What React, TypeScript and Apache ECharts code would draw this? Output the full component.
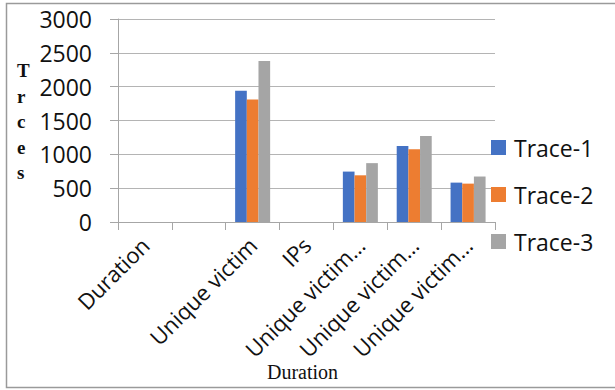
import React, { useEffect, useRef } from "react";
import * as echarts from "echarts";

const categories = [
  "Duration",
  "",
  "Unique victim",
  "IPs",
  "Unique victim…",
  "Unique victim…",
  "Unique victim…",
];
const trace1 = [null, null, 1940, null, 745, 1125, 582];
const trace2 = [null, null, 1810, null, 690, 1075, 567];
const trace3 = [null, null, 2380, null, 870, 1270, 672];
const seriesNames = ["Trace-1", "Trace-2", "Trace-3"];
const colors = ["#4472C4", "#ED7D31", "#A5A5A5"];
const yTicks = { min: 0, max: 3000, interval: 500 };

const FONT = "'Open Sans', sans-serif";
const SERIF = "'Liberation Serif', 'DejaVu Serif', serif";

export default function App() {
  const ref = useRef<HTMLDivElement>(null);

  useEffect(() => {
    if (!ref.current) return;
    const chart = echarts.init(ref.current, null, { renderer: "svg" });
    const values = [trace1, trace2, trace3];
    chart.setOption({
      animation: false,
      backgroundColor: "#ffffff",
      grid: { left: 118, right: 120, top: 19, bottom: 168, containLabel: false },
      legend: {
        orient: "vertical",
        left: 491,
        top: 135,
        padding: 0,
        itemWidth: 15,
        itemHeight: 15,
        itemGap: 22,
        icon: "rect",
        data: seriesNames,
        textStyle: {
          fontFamily: FONT,
          fontSize: 23,
          color: "#111",
          lineHeight: 25,
          padding: [0, 0, 0, 3],
        },
      },
      xAxis: {
        type: "category",
        data: categories,
        axisLine: { lineStyle: { color: "#a6a6a6", width: 1 } },
        axisTick: { show: true, length: 8, lineStyle: { color: "#a6a6a6" } },
        axisLabel: {
          interval: 0,
          rotate: 45,
          margin: 19,
          fontFamily: FONT,
          fontSize: 22,
          color: "#111",
        },
      },
      yAxis: {
        type: "value",
        min: yTicks.min,
        max: yTicks.max,
        interval: yTicks.interval,
        axisLine: { show: true, lineStyle: { color: "#a6a6a6", width: 1 } },
        axisTick: { show: true, length: 8, lineStyle: { color: "#a6a6a6" } },
        splitLine: { lineStyle: { color: "#b4b4b4", width: 1 } },
        axisLabel: {
          margin: 26,
          fontFamily: FONT,
          fontSize: 23,
          color: "#111",
          formatter: (v: number) => String(v),
        },
      },
      series: seriesNames.map((name, i) => ({
        name,
        type: "bar",
        data: values[i],
        barGap: "0%",
        barCategoryGap: "35%",
        itemStyle: { color: colors[i] },
      })),
      graphic: [
        {
          type: "rect",
          silent: true,
          shape: { x: 6.5, y: 3.5, width: 640, height: 384 },
          style: { fill: "none", stroke: "#9a9a9a", lineWidth: 1.5 },
        },
        {
          type: "text",
          left: 17,
          top: 58,
          style: {
            text: "T\nr\nc\ne\ns",
            font: `bold 19px ${SERIF}`,
            lineHeight: 25.5,
            fill: "#111",
            align: "center",
          },
        },
        {
          type: "text",
          left: 267,
          top: 362,
          style: {
            text: "Duration",
            font: `20px ${SERIF}`,
            fill: "#111",
          },
        },
      ],
    });
    return () => chart.dispose();
  }, []);

  return (
    <div
      ref={ref}
      style={{ position: "absolute", left: 0, top: 0, width: 615, height: 390 }}
    />
  );
}
